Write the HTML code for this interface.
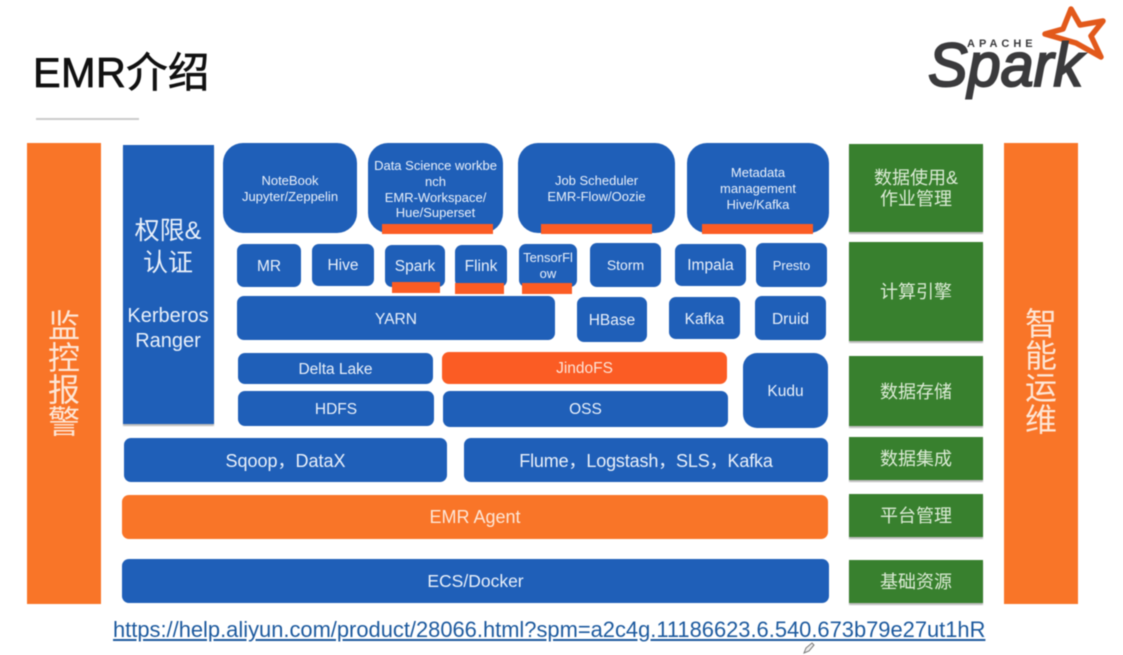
<!DOCTYPE html>
<html><head><meta charset="utf-8"><style>
html,body{margin:0;padding:0;background:#fff}
#p{position:relative;width:1123px;height:655px;overflow:hidden;background:#fff;filter:blur(.5px);font-family:"Liberation Sans","Noto Sans CJK SC",sans-serif;color:#e9f0fa}
.b{position:absolute;display:flex;align-items:center;justify-content:center;text-align:center;background:#1f5fb8;box-sizing:border-box;white-space:nowrap}
.r{border-radius:7px}
.t{border-radius:20px;font-size:13px;line-height:15.7px}
.s{position:absolute;background:#fb5c24}
.g{position:absolute;display:flex;align-items:center;justify-content:center;text-align:center;background:#38802e;color:#dcebd6;font-size:18px;line-height:21px;box-shadow:0 2px 1px #bbb;box-sizing:border-box;padding-top:2px}
.o{position:absolute;display:flex;align-items:center;justify-content:center;background:#f97528;color:#fde6d6;width:74px;top:143px;height:461px;font-size:32px;line-height:32px;text-align:center}
.f{font-size:15.5px;padding-top:2px}
.f2{padding-top:4px}
</style></head><body><div id="p">
<div style="position:absolute;left:33px;top:47px;font-size:41.5px;line-height:52px;color:#111;-webkit-text-stroke:.7px #111;white-space:nowrap;letter-spacing:.3px">EMR介绍</div>
<div style="position:absolute;left:36px;top:118px;width:103px;height:2px;background:#ccc"></div>

<svg style="position:absolute;left:920px;top:0" width="200" height="105" viewBox="920 0 200 105">
<polygon points="1071,9 1080,25 1103,21 1091,36 1101,57 1076,43 1045,34 1063,29" fill="none" stroke="#e2591b" stroke-width="5.5" stroke-linejoin="round"/>
<text x="967" y="47" font-family="Liberation Sans" font-size="11" font-weight="bold" letter-spacing="4" fill="#3a3a3c">APACHE</text>
<text x="928" y="86" font-family="Liberation Sans" font-size="61" font-style="italic" stroke="#3a3a3c" stroke-width="2" fill="#3a3a3c" textLength="155" lengthAdjust="spacingAndGlyphs">Spark</text>
</svg>

<div class="o" style="left:27px"><div style="margin-top:1px">监<br>控<br>报<br>警</div></div>
<div class="o" style="left:1004px"><div style="margin-top:-3px">智<br>能<br>运<br>维</div></div>

<div class="b" style="left:123px;top:145px;width:91px;height:279px;box-shadow:0 2px 1px #bbb;display:block">
<div style="position:absolute;left:-1px;right:0;top:70px;font-size:25px;line-height:32px">权限&amp;<br>认证</div>
<div style="position:absolute;left:0;right:1px;top:159px;font-size:20px;line-height:25px">Kerberos<br>Ranger</div>
</div>

<div class="b t" style="left:223px;top:143px;width:134px;height:90px;padding-top:1px">NoteBook<br>Jupyter/Zeppelin</div>
<div class="b t" style="left:368px;top:143px;width:135px;height:90px;padding-top:3px">Data Science workbe<br>nch<br>EMR-Workspace/<br>Hue/Superset</div>
<div class="b t" style="left:518px;top:143px;width:157px;height:90px;padding-top:1px">Job Scheduler<br>EMR-Flow/Oozie</div>
<div class="b t" style="left:687px;top:143px;width:142px;height:90px;padding-top:2px">Metadata<br>management<br>Hive/Kafka</div>
<div class="s" style="left:382px;top:224px;width:111px;height:10px"></div>
<div class="s" style="left:541px;top:224px;width:111px;height:10px"></div>
<div class="s" style="left:702px;top:224px;width:111px;height:10px"></div>

<div class="b r f" style="left:237px;top:244px;width:64px;height:43px">MR</div>
<div class="b r f" style="left:312px;top:244px;width:62px;height:42px">Hive</div>
<div class="b r f" style="left:385px;top:245px;width:60px;height:42px">Spark</div>
<div class="b r f" style="left:455px;top:245px;width:52px;height:42px">Flink</div>
<div class="b r" style="left:519px;top:244px;width:58px;height:43px;font-size:13px;line-height:16px">TensorFl<br>ow</div>
<div class="b r" style="left:590px;top:243px;width:71px;height:44px;font-size:14px">Storm</div>
<div class="b r f" style="left:675px;top:244px;width:71px;height:42px">Impala</div>
<div class="b r" style="left:756px;top:243px;width:71px;height:44px;font-size:13px">Presto</div>
<div class="s" style="left:392px;top:282px;width:48px;height:11px"></div>
<div class="s" style="left:455px;top:283px;width:49px;height:11px"></div>
<div class="s" style="left:522px;top:283px;width:50px;height:11px"></div>

<div class="b r f f2" style="left:237px;top:296px;width:318px;height:44px">YARN</div>
<div class="b r f" style="left:577px;top:297px;width:70px;height:45px">HBase</div>
<div class="b r f f2" style="left:669px;top:297px;width:71px;height:42px">Kafka</div>
<div class="b r f f2" style="left:755px;top:296px;width:71px;height:44px">Druid</div>

<div class="b r f" style="left:238px;top:353px;width:195px;height:31px">Delta Lake</div>
<div class="b r f" style="left:442px;top:352px;width:285px;height:32px;background:#fb5c24;color:#fde3d6">JindoFS</div>
<div class="b r f" style="left:238px;top:391px;width:196px;height:35px">HDFS</div>
<div class="b r f" style="left:443px;top:391px;width:285px;height:36px">OSS</div>
<div class="b f" style="left:743px;top:353px;width:85px;height:75px;border-radius:14px">Kudu</div>

<div class="b r" style="left:124px;top:438px;width:323px;height:44px;font-size:18px">Sqoop，DataX</div>
<div class="b r" style="left:464px;top:438px;width:364px;height:44px;font-size:18px;letter-spacing:-.15px">Flume，Logstash，SLS，Kafka</div>
<div class="b r" style="left:122px;top:495px;width:706px;height:44px;background:#f97528;color:#fde6d6;font-size:18px">EMR Agent</div>
<div class="b r" style="left:122px;top:559px;width:707px;height:44px;font-size:17.5px">ECS/Docker</div>

<div class="g" style="left:849px;top:144px;width:134px;height:88px"><div>数据使用&amp;<br>作业管理</div></div>
<div class="g" style="left:849px;top:242px;width:134px;height:99px"><div>计算引擎</div></div>
<div class="g" style="left:849px;top:356px;width:134px;height:70px">数据存储</div>
<div class="g" style="left:849px;top:437px;width:134px;height:43px">数据集成</div>
<div class="g" style="left:849px;top:494px;width:134px;height:43px">平台管理</div>
<div class="g" style="left:849px;top:560px;width:134px;height:43px">基础资源</div>

<div style="position:absolute;left:113px;top:617px;font-size:21.9px;line-height:26px;color:#1d5a9e;text-decoration:underline;white-space:nowrap">https://help.aliyun.com/product/28066.html?spm=a2c4g.11186623.6.540.673b79e27ut1hR</div>
<svg style="position:absolute;left:802px;top:641px" width="14" height="14"><path d="M2 12 L4 7 L10 2 L12 4 L7 10 Z" fill="#eee" stroke="#777" stroke-width="1"/></svg>
</div></body></html>
